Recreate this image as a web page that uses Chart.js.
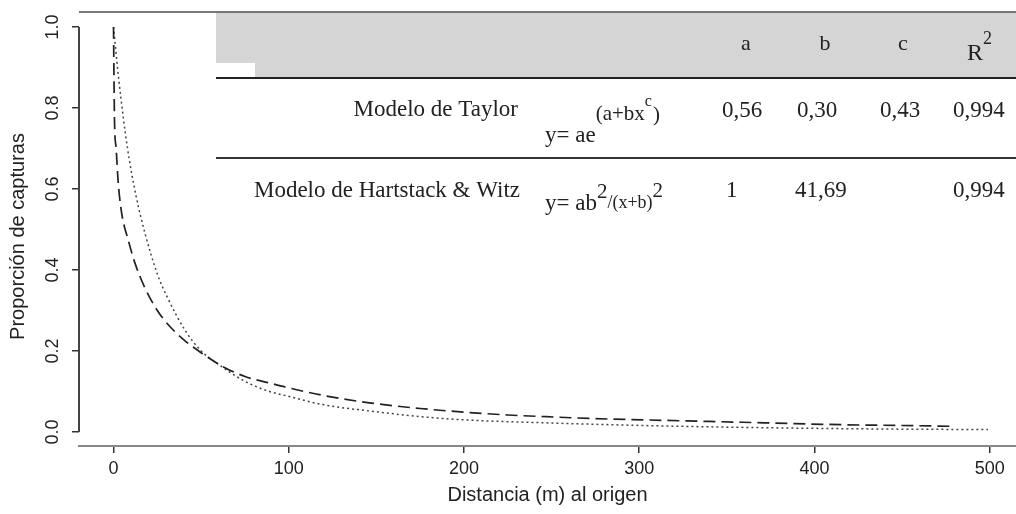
<!DOCTYPE html>
<html>
<head>
<meta charset="utf-8">
<script src="https://cdn.jsdelivr.net/npm/chart.js@4.4.1/dist/chart.umd.min.js"></script>
<style>
  body { margin: 0; background: #fff; }
  #wrap { width: 1016px; height: 514px; position: relative; }
</style>
</head>
<body>
<div id="wrap"><canvas id="curvas"></canvas></div>
<script>
// Distancias (m) y proporciones
const taylorX = [0, 0.3, 0.6, 1.5, 2.6, 4, 5.5, 8, 12, 18, 25, 31, 40, 52, 63, 75, 89, 98, 120, 146, 175, 200, 225, 251, 275, 302, 340, 377, 415, 450, 479];
const taylorY = [1.0, 0.86, 0.76, 0.70, 0.62, 0.56, 0.52, 0.48, 0.42, 0.355, 0.30, 0.266, 0.228, 0.19, 0.16, 0.137, 0.121, 0.111, 0.09, 0.072, 0.058, 0.049, 0.042, 0.037, 0.033, 0.030, 0.026, 0.022, 0.018, 0.016, 0.014];
const hwX = [0, 3, 8, 13, 18, 25, 31, 41, 50, 58, 75, 89, 98, 120, 146, 175, 200, 251, 302, 350, 400, 450, 499];
const hwY = [1.0, 0.87, 0.70, 0.58, 0.49, 0.39, 0.33, 0.25, 0.20, 0.173, 0.125, 0.10, 0.09, 0.067, 0.052, 0.038, 0.030, 0.022, 0.016, 0.012, 0.009, 0.007, 0.006];
const xTicks = [0, 100, 200, 300, 400, 500];
const yTicks = [0, 0.2, 0.4, 0.6, 0.8, 1.0];

const toPoints = (xs, ys) => xs.map((x, i) => ({ x: x, y: ys[i] }));

// Eje y dibujado solo entre 0 y 1, como en R
const yAxisLine = {
  id: 'yAxisLine',
  afterDraw(chart) {
    const y = chart.scales.y;
    const ctx = chart.ctx;
    ctx.save();
    ctx.strokeStyle = '#444';
    ctx.lineWidth = 2;
    ctx.beginPath();
    ctx.moveTo(y.right, y.getPixelForValue(yTicks[yTicks.length - 1]));
    ctx.lineTo(y.right, y.getPixelForValue(yTicks[0]));
    ctx.stroke();
    ctx.restore();
  }
};

// Tabla de parametros superpuesta
const paramTable = {
  id: 'paramTable',
  afterDraw(chart) {
    const ctx = chart.ctx;
    const left = chart.chartArea.left;
    const right = chart.width;
    ctx.save();

    ctx.fillStyle = '#d5d5d5';
    ctx.fillRect(216, 13, right - 216, 64);
    ctx.fillStyle = '#fff';
    ctx.fillRect(216, 63, 39, 14);

    ctx.strokeStyle = '#777';
    ctx.lineWidth = 2;
    ctx.beginPath();
    ctx.moveTo(left, 12);
    ctx.lineTo(right, 12);
    ctx.stroke();

    ctx.strokeStyle = '#222';
    ctx.beginPath();
    ctx.moveTo(216, 78);
    ctx.lineTo(right, 78);
    ctx.stroke();

    ctx.strokeStyle = '#333';
    ctx.beginPath();
    ctx.moveTo(216, 158);
    ctx.lineTo(right, 158);
    ctx.stroke();

    const serif = (size) => size + 'px "Liberation Serif", "Times New Roman", serif';
    ctx.fillStyle = '#222';
    ctx.textBaseline = 'alphabetic';

    // cabecera
    ctx.font = serif(22);
    ctx.textAlign = 'center';
    ctx.fillText('a', 746, 50);
    ctx.fillText('b', 825, 50);
    ctx.fillText('c', 903, 50);
    ctx.textAlign = 'left';
    ctx.font = serif(24);
    ctx.fillText('R', 967, 60);
    let x = 967 + ctx.measureText('R').width;
    ctx.font = serif(18);
    ctx.fillText('2', x, 44);

    // fila Taylor
    ctx.font = serif(23);
    ctx.textAlign = 'right';
    ctx.fillText('Modelo de Taylor', 518, 116);
    ctx.textAlign = 'left';
    ctx.fillText('0,56', 722, 117);
    ctx.fillText('0,30', 797, 117);
    ctx.fillText('0,43', 880, 117);
    ctx.fillText('0,994', 953, 117);

    ctx.font = serif(23);
    ctx.fillText('y= ae', 545, 142);
    x = 545 + ctx.measureText('y= ae').width;
    ctx.font = serif(21);
    ctx.fillText('(a+bx', x, 120);
    x += ctx.measureText('(a+bx').width;
    ctx.font = serif(16);
    ctx.fillText('c', x, 106);
    x += ctx.measureText('c').width + 1;
    ctx.font = serif(21);
    ctx.fillText(')', x, 121);

    // fila Hartstack & Witz
    ctx.font = serif(23);
    ctx.textAlign = 'right';
    ctx.fillText('Modelo de Hartstack & Witz', 520, 197);
    ctx.textAlign = 'left';
    ctx.fillText('1', 726, 197);
    ctx.fillText('41,69', 795, 197);
    ctx.fillText('0,994', 953, 197);

    ctx.font = serif(23);
    ctx.fillText('y= ab', 545, 210);
    x = 545 + ctx.measureText('y= ab').width;
    ctx.font = serif(21);
    ctx.fillText('2', x, 198);
    x += ctx.measureText('2').width;
    ctx.font = serif(18);
    ctx.fillText('/(x+b)', x, 208);
    x += ctx.measureText('/(x+b)').width;
    ctx.font = serif(21);
    ctx.fillText('2', x, 197);

    ctx.restore();
  }
};

const sans = '"Liberation Sans", Arial, Helvetica, sans-serif';

new Chart(document.getElementById('curvas'), {
  type: 'line',
  data: {
    datasets: [{
      label: 'Modelo de Taylor',
      data: toPoints(taylorX, taylorY),
      borderColor: '#222',
      borderWidth: 1.7,
      borderDash: [12, 6],
      pointRadius: 0,
      cubicInterpolationMode: 'monotone',
      fill: false
    }, {
      label: 'Modelo de Hartstack & Witz',
      data: toPoints(hwX, hwY),
      borderColor: '#444',
      borderWidth: 1.5,
      borderDash: [2, 3],
      pointRadius: 0,
      cubicInterpolationMode: 'monotone',
      fill: false
    }]
  },
  options: {
    responsive: true,
    maintainAspectRatio: false,
    animation: false,
    layout: { padding: { top: 27, left: 0, right: 0, bottom: 0 } },
    plugins: {
      legend: { display: false },
      tooltip: { enabled: false }
    },
    scales: {
      x: {
        type: 'linear',
        min: -19.7,
        max: 515,
        afterBuildTicks: (scale) => { scale.ticks = xTicks.map(v => ({ value: v })); },
        afterFit: (scale) => { scale.height = 68; },
        grid: { drawOnChartArea: false, drawTicks: true, tickLength: 7, color: '#333', lineWidth: 1.5 },
        border: { display: true, color: '#888', width: 2 },
        ticks: { color: '#222', padding: 5, font: { family: sans, size: 18 }, maxRotation: 0 },
        title: {
          display: true,
          text: 'Distancia (m) al origen',
          color: '#222',
          font: { family: sans, size: 20 },
          padding: { top: 0, bottom: 7 }
        }
      },
      y: {
        type: 'linear',
        min: -0.0346,
        max: 1.0,
        afterBuildTicks: (scale) => { scale.ticks = yTicks.map(v => ({ value: v })); },
        afterFit: (scale) => { scale.width = 79; },
        grid: { drawOnChartArea: false, drawTicks: true, tickLength: 7, color: '#333', lineWidth: 1.5 },
        border: { display: false },
        ticks: {
          color: '#222',
          padding: 6,
          minRotation: 90,
          maxRotation: 90,
          crossAlign: 'center',
          font: { family: sans, size: 18 },
          callback: (v) => Number(v).toFixed(1)
        },
        title: {
          display: true,
          text: 'Proporción de capturas',
          color: '#222',
          font: { family: sans, size: 20 },
          padding: { top: 6, bottom: 0 }
        }
      }
    }
  },
  plugins: [yAxisLine, paramTable]
});
</script>
</body>
</html>
